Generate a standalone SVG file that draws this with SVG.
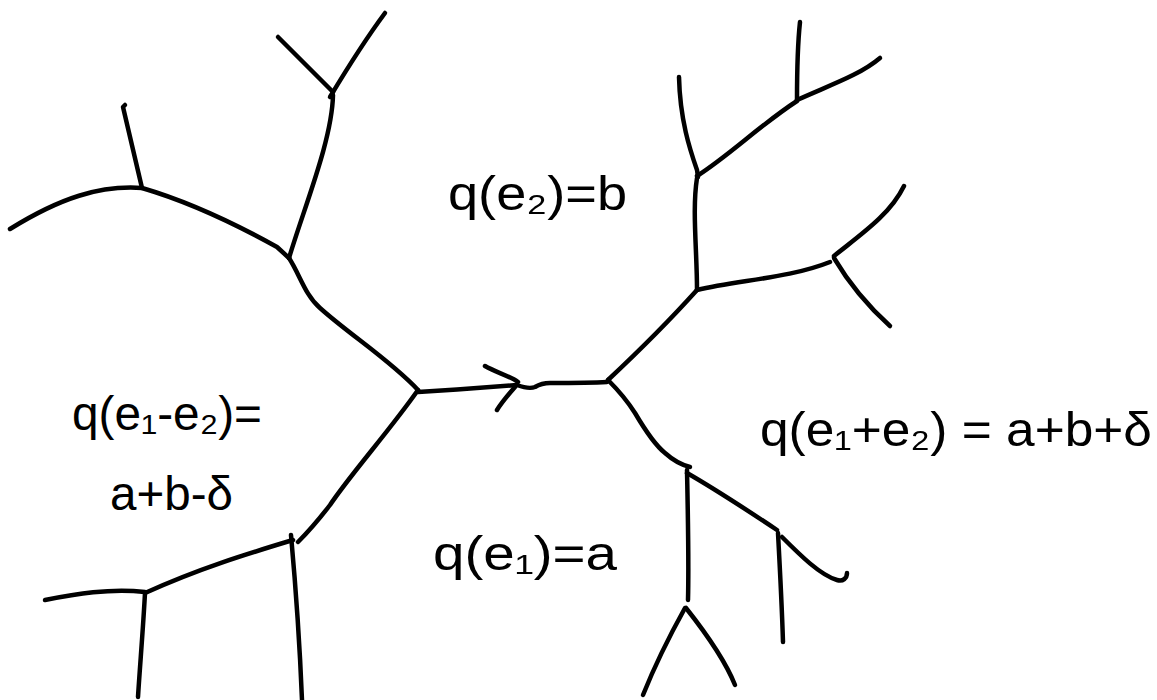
<svg xmlns="http://www.w3.org/2000/svg" width="1157" height="700" viewBox="0 0 1157 700">
<style>
.e{fill:none;stroke:#000;stroke-width:4.5;stroke-linecap:round;stroke-linejoin:round}
.t{font-family:"Liberation Sans",Arial,sans-serif;font-size:48px;fill:#000}
</style>
<rect width="1157" height="700" fill="#fff"/>
<g id="connectors">
<!-- top-left -->
<path class="e" d="M278,37 L333,92"/>
<path class="e" d="M385,13 C365,40 345,72 330,97"/>
<path class="e" d="M333,95 C332,140 305,205 289,258"/>
<path class="e" d="M10,229 C60,198 100,185 142,188 C200,205 250,232 277,247 L289,258"/>
<path class="e" d="M125,105 L123,107 L142,188"/>
<path class="e" d="M289,258 C300,275 305,295 320,308 C350,335 390,360 418,390"/>
<!-- central edge with arrow -->
<path class="e" d="M418,392 C450,390 490,387 517,385 C525,388 530,389 535,387 C540,384 545,383 550,383 C570,383 590,383 607,382"/>
<path class="e" d="M485,366 C495,372 510,376 518,382"/>
<path class="e" d="M515,387 C508,395 502,402 497,410"/>
<!-- top-right -->
<path class="e" d="M608,380 C640,350 670,320 697,290"/>
<path class="e" d="M697,290 C697,250 692,210 697,178"/>
<path class="e" d="M679,77 C680,120 690,150 697,170 L698,177"/>
<path class="e" d="M697,176 C730,155 760,125 797,101"/>
<path class="e" d="M800,22 C797,50 797,80 797,100"/>
<path class="e" d="M797,100 C830,85 860,75 880,58"/>
<path class="e" d="M697,290 C740,280 790,278 830,262"/>
<path class="e" d="M834,256 C860,235 890,215 904,186"/>
<path class="e" d="M834,258 C850,285 870,308 890,326"/>
<!-- bottom-right -->
<path class="e" d="M608,380 C620,392 628,402 635,413 C645,430 655,445 665,453 C675,462 682,465 690,467"/>
<path class="e" d="M687,470 C688,520 689,560 688,600"/>
<path class="e" d="M687,473 C720,492 750,512 777,530"/>
<path class="e" d="M778,533 C780,570 782,610 783,642"/>
<path class="e" d="M782,537 C800,555 820,575 837,580 C843,582 847,578 847,573"/>
<path class="e" d="M685,608 C670,635 655,665 643,695"/>
<path class="e" d="M686,608 C705,632 725,660 735,685"/>
<!-- bottom-left -->
<path class="e" d="M418,390 C390,430 350,475 330,505 C320,518 310,530 298,542"/>
<path class="e" d="M293,540 C250,553 200,568 145,593"/>
<path class="e" d="M145,592 C110,588 75,594 45,600"/>
<path class="e" d="M145,593 C143,630 140,665 138,697"/>
<path class="e" d="M291,535 C296,590 300,650 302,700"/>
</g>
<g id="labels">
<g id="label-b"><text class="t" x="448" y="210" textLength="179" lengthAdjust="spacingAndGlyphs">q(e₂)=b</text></g>
<g id="label-diff"><text class="t" x="72" y="430" textLength="190" lengthAdjust="spacingAndGlyphs">q(e₁-e₂)=</text>
<text class="t" x="110" y="510" textLength="123" lengthAdjust="spacingAndGlyphs">a+b-δ</text></g>
<g id="label-sum"><text class="t" x="760" y="446" textLength="392" lengthAdjust="spacingAndGlyphs">q(e₁+e₂) = a+b+δ</text></g>
<g id="label-a"><text class="t" x="433" y="570" textLength="184" lengthAdjust="spacingAndGlyphs">q(e₁)=a</text></g>
</g>
</svg>
